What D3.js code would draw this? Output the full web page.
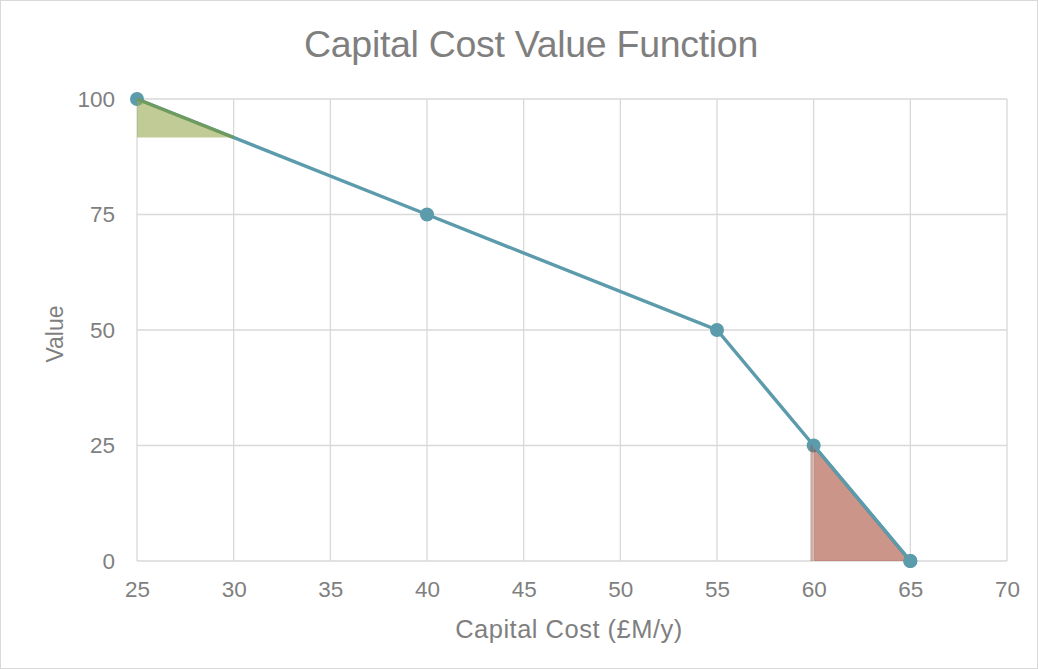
<!DOCTYPE html>
<html><head><meta charset="utf-8">
<script src="https://cdn.jsdelivr.net/npm/d3@7"></script>
<style>body{margin:0;background:#fff;} svg{display:block;font-family:"Liberation Sans",Arial,sans-serif;}</style>
</head><body>
<script>
const costs = [25, 40, 55, 60, 65];
const values = [100, 75, 50, 25, 0];
const greenX = [25, 25, 30];
const greenY = [100, 91.67, 91.67];
const redX = [60, 60, 65];
const redY = [25, 0, 0];
const xTicks = [25, 30, 35, 40, 45, 50, 55, 60, 65, 70];
const yTicks = [0, 25, 50, 75, 100];

const W = 1038, H = 669;
const svg = d3.select("body").append("svg").attr("width", W).attr("height", H);
svg.append("rect").attr("x", 0.5).attr("y", 0.5).attr("width", W - 1).attr("height", H - 1)
  .attr("fill", "#fff").attr("stroke", "#d9d9d9");

const x = d3.scaleLinear().domain([25, 70]).range([137, 1007]);
const y = d3.scaleLinear().domain([0, 100]).range([561, 99]);
const gray = "#7f7f7f";
const ff = "Liberation Sans, Arial, sans-serif";

// gridlines
svg.append("g").selectAll("line").data(xTicks).join("line")
  .attr("x1", d => x(d)).attr("x2", d => x(d)).attr("y1", y(0)).attr("y2", y(100))
  .attr("stroke", "#d9d9d9").attr("stroke-width", 1.3);
svg.append("g").selectAll("line").data(yTicks).join("line")
  .attr("x1", x(25)).attr("x2", x(70)).attr("y1", d => y(d)).attr("y2", d => y(d))
  .attr("stroke", "#d9d9d9").attr("stroke-width", 1.3);

// axes
const xAxis = svg.append("g").attr("transform", `translate(0,${y(0)})`)
  .call(d3.axisBottom(x).tickValues(xTicks).tickSize(0).tickPadding(20));
xAxis.select(".domain").remove();
xAxis.selectAll("text").attr("fill", gray).attr("font-size", 22.5).attr("font-family", ff);
const yAxis = svg.append("g").attr("transform", `translate(${x(25)},0)`)
  .call(d3.axisLeft(y).tickValues(yTicks).tickSize(0).tickPadding(22));
yAxis.select(".domain").remove();
yAxis.selectAll("text").attr("fill", gray).attr("font-size", 22.5).attr("font-family", ff);

// main line
const pts = costs.map((c, i) => [c, values[i]]);
const line = d3.line().x(d => x(d[0])).y(d => y(d[1]));
svg.append("path").datum(pts).attr("d", line).attr("fill", "none")
  .attr("stroke", "#5b9bac").attr("stroke-width", 3.4);
svg.append("g").selectAll("circle").data(pts).join("circle")
  .attr("cx", d => x(d[0])).attr("cy", d => y(d[1])).attr("r", 7).attr("fill", "#5b9bac");

// shaded areas
const gPts = greenX.map((v, i) => [v, greenY[i]]);
const rPts = redX.map((v, i) => [v, redY[i]]);
const poly = d3.line().x(d => x(d[0])).y(d => y(d[1])).curve(d3.curveLinearClosed);
svg.append("path").datum(gPts).attr("d", poly).attr("fill", "rgb(150,168,80)").attr("fill-opacity", 0.6);
svg.append("path").datum([gPts[0], gPts[2]]).attr("d", line).attr("fill", "none")
  .attr("stroke", "#6f9a55").attr("stroke-width", 3).attr("stroke-opacity", 0.85);
svg.append("path").datum(rPts).attr("d", poly).attr("fill", "rgb(168,78,60)").attr("fill-opacity", 0.6);
svg.append("path").datum([rPts[0], rPts[1]]).attr("d", line).attr("fill", "none")
  .attr("stroke", "#a05548").attr("stroke-width", 2.5).attr("stroke-opacity", 0.5)
  .attr("transform", "translate(-2,0)");
// redraw hypotenuse line on top of red area
svg.append("path").datum([pts[3], pts[4]]).attr("d", line).attr("fill", "none")
  .attr("stroke", "#5b9bac").attr("stroke-width", 3.4);
svg.append("circle").attr("cx", x(65)).attr("cy", y(0)).attr("r", 7).attr("fill", "#5b9bac");

// titles
svg.append("text").attr("x", 531).attr("y", 57).attr("text-anchor", "middle")
  .attr("fill", gray).attr("font-size", 37.5).attr("letter-spacing", -0.3).text("Capital Cost Value Function");
svg.append("text").attr("x", 569).attr("y", 638).attr("text-anchor", "middle")
  .attr("fill", gray).attr("font-size", 25.5).attr("letter-spacing", 0.5).text("Capital Cost (£M/y)");
svg.append("text").attr("transform", `translate(63,334) rotate(-90)`).attr("text-anchor", "middle")
  .attr("fill", gray).attr("font-size", 23).text("Value");
</script>
</body></html>
